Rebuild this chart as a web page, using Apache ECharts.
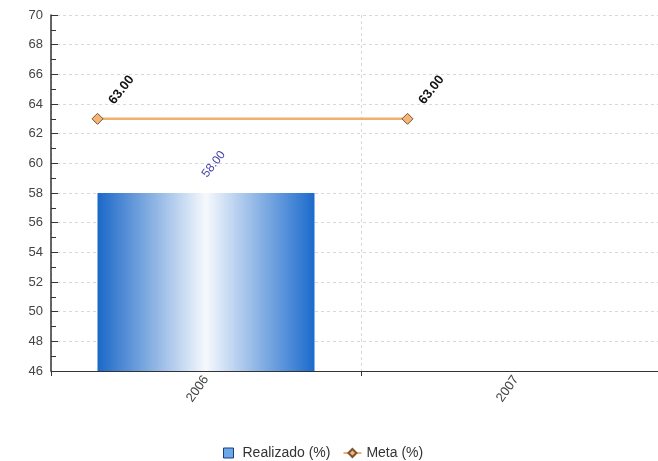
<!DOCTYPE html>
<html><head><meta charset="utf-8">
<script src="https://cdn.jsdelivr.net/npm/echarts@6/dist/echarts.min.js"></script>
<style>html,body{margin:0;padding:0;background:#fff;overflow:hidden}#c{width:700px;height:461px}</style>
</head><body><div id="c"></div>
<script>
const categories = ["2006", "2007"];
const realizado = [58.00, null];
const meta = [63.00, 63.00];
const yTicks = [46, 70, 2];

const chart = echarts.init(document.getElementById('c'));
const font = "'Liberation Sans', Arial, sans-serif";
const barGrad = new echarts.graphic.LinearGradient(0, 0, 1, 0, [
  {offset: 0, color: '#1b68c8'},
  {offset: 0.5, color: '#f6f9fd'},
  {offset: 1, color: '#1b6acc'}
]);
// line points sit at the left edge of each category's bar slot (bar width 70%)
const lineShift = 0.35;
chart.setOption({
  animation: false,
  textStyle: {fontFamily: font},
  grid: [
    {left: 51, top: 15, right: 29, bottom: 90, containLabel: false}
  ],
  legend: {
    top: 441, left: 218, itemGap: 12, itemWidth: 18, itemHeight: 10,
    textStyle: {fontFamily: font, fontSize: 14, color: '#333'},
    data: [
      {name: 'Realizado (%)', icon: 'path://M0,0L9,0L9,9L0,9Z',
       itemStyle: {color: '#6aa8e8', borderColor: '#1a3f80', borderWidth: 1}},
      {name: 'Meta (%)'}
    ]
  },
  xAxis: [
    {type: 'category', data: categories,
     axisLine: {lineStyle: {color: '#333', width: 1}},
     axisTick: {show: true, length: 5, lineStyle: {color: '#333'}},
     axisLabel: {rotate: 55, color: '#444', fontSize: 13, margin: 6, fontFamily: font},
     splitLine: {show: true, lineStyle: {type: [3, 3], color: '#d8d8d8'}}},
    {type: 'value', show: false, min: -0.5 + lineShift, max: categories.length - 0.5 + lineShift,
     splitLine: {show: false}}
  ],
  yAxis: [
    {type: 'value', min: yTicks[0], max: yTicks[1], interval: yTicks[2],
     axisLine: {show: true, onZero: false, lineStyle: {color: '#333', width: 1.5}},
     axisTick: {show: true, inside: true, length: 7, lineStyle: {color: '#333'}},
     minorTick: {show: true, splitNumber: 2, length: 5, lineStyle: {color: '#333'}},
     axisLabel: {color: '#444', fontSize: 13, margin: 8, fontFamily: font},
     splitLine: {show: true, lineStyle: {type: [3, 3], color: '#d8d8d8'}}}
  ],
  series: [
    {name: 'Realizado (%)', type: 'bar', xAxisIndex: 0, data: realizado,
     barWidth: '70%', itemStyle: {color: barGrad},
     label: {show: true, position: [107, -17], rotate: 52, align: 'left', verticalAlign: 'middle',
             color: '#4040a8', fontSize: 12, fontFamily: font, formatter: p => p.value.toFixed(2)}},
    {name: 'Meta (%)', type: 'line', xAxisIndex: 1, data: meta.map((v, i) => [i, v]),
     symbol: 'diamond', symbolSize: 11,
     lineStyle: {color: '#f0b070', width: 2.5},
     itemStyle: {color: '#f5b478', borderColor: '#7a5530', borderWidth: 1},
     label: {show: true, position: [20, -10], rotate: 52, align: 'left', verticalAlign: 'middle',
             color: '#111', fontSize: 13, fontWeight: 'bold', fontFamily: font,
             formatter: p => p.value[1].toFixed(2)}}
  ]
});
</script></body></html>
